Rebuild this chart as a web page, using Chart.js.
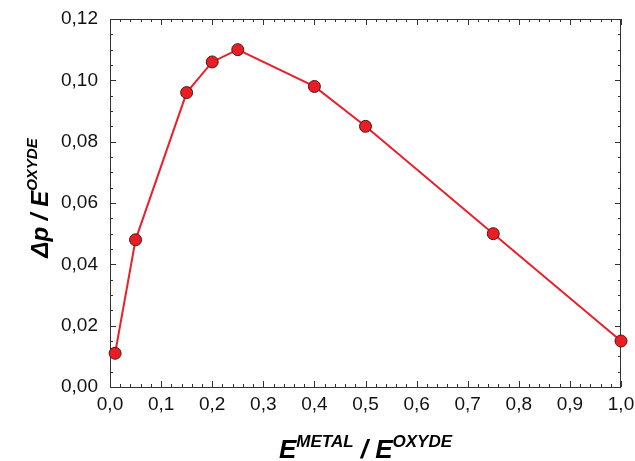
<!DOCTYPE html>
<html>
<head>
<meta charset="utf-8">
<script src="https://cdn.jsdelivr.net/npm/chart.js@4"></script>
<style>
    body { margin: 0; background: #fff; }
    #chart { display: block; }
</style>
</head>
<body>
<canvas id="chart" width="635" height="461"></canvas>
<script>
// dados
const ratioMetalOxyde = [0.01, 0.05, 0.15, 0.2, 0.25, 0.4, 0.5, 0.75, 1.0];
const deltaP = [0.011, 0.048, 0.096, 0.106, 0.110, 0.098, 0.085, 0.050, 0.015];

const xTickStep = 0.1;
const yTickStep = 0.02;
const xMinorStep = 0.02;
const yMinorStep = 0.005;

const FONT = '"Liberation Sans", Arial, sans-serif';
const AXIS_COLOR = '#333';

function fmt(v, decimals) {
    return v.toFixed(decimals).replace('.', ',');
}

// moldura com ticks para dentro (todos os lados)
const framePlugin = {
    id: 'frame',
    beforeDatasetsDraw(chart) {
        const { ctx, chartArea: a, scales } = chart;
        const x = scales.x, y = scales.y;
        ctx.save();
        ctx.strokeStyle = AXIS_COLOR;
        ctx.lineWidth = 1;
        ctx.strokeRect(a.left + 0.5, a.top + 0.5, a.right - a.left - 1, a.bottom - a.top);

        ctx.beginPath();
        const nx = Math.round((x.max - x.min) / xMinorStep);
        for (let i = 0; i <= nx; i++) {
            const v = x.min + i * xMinorStep;
            const major = Math.abs(v / xTickStep - Math.round(v / xTickStep)) < 1e-6;
            const len = major ? 6 : 3;
            const px = Math.round(x.getPixelForValue(v)) + 0.5;
            ctx.moveTo(px, a.bottom); ctx.lineTo(px, a.bottom - len);
            ctx.moveTo(px, a.top); ctx.lineTo(px, a.top + len);
        }
        const ny = Math.round((y.max - y.min) / yMinorStep);
        for (let i = 0; i <= ny; i++) {
            const v = y.min + i * yMinorStep;
            const major = Math.abs(v / yTickStep - Math.round(v / yTickStep)) < 1e-6;
            const len = major ? 6 : 3;
            const py = Math.round(y.getPixelForValue(v)) + 0.5;
            ctx.moveTo(a.left, py); ctx.lineTo(a.left + len, py);
            ctx.moveTo(a.right, py); ctx.lineTo(a.right - len, py);
        }
        ctx.stroke();
        ctx.restore();
    },
    afterDraw(chart) {
        const { ctx, chartArea: a } = chart;
        ctx.save();
        ctx.fillStyle = '#000';
        ctx.textBaseline = 'alphabetic';

        // título do eixo x: E^METAL / E^OXYDE
        drawTitle(ctx, [
            ['E', 26, 0], ['METAL', 17, -11], [' / ', 26, 0], ['E', 26, 0], ['OXYDE', 17, -11]
        ], (a.left + a.right) / 2, 458, 0);

        // título do eixo y: Δp / E^OXYDE
        drawTitle(ctx, [
            ['\u0394p / E', 24, 0], ['OXYDE', 15, -11]
        ], 48, (a.top + a.bottom) / 2 - 5, -Math.PI / 2);

        ctx.restore();
    }
};

function drawTitle(ctx, parts, cx, cy, angle) {
    let total = 0;
    parts.forEach(p => {
        ctx.font = `italic bold ${p[1]}px ${FONT}`;
        p.w = ctx.measureText(p[0]).width;
        total += p.w;
    });
    ctx.save();
    ctx.translate(cx, cy);
    ctx.rotate(angle);
    let xPos = -total / 2;
    parts.forEach(p => {
        ctx.font = `italic bold ${p[1]}px ${FONT}`;
        ctx.fillText(p[0], xPos, p[2]);
        xPos += p.w;
    });
    ctx.restore();
}

new Chart(document.getElementById('chart'), {
    type: 'scatter',
    data: {
        datasets: [{
            data: ratioMetalOxyde.map((v, i) => ({ x: v, y: deltaP[i] })),
            showLine: true,
            borderColor: '#e8212b',
            borderWidth: 2,
            pointRadius: 6,
            pointHoverRadius: 6,
            pointBackgroundColor: '#ea1c24',
            pointBorderColor: '#4a1a1a',
            pointBorderWidth: 1,
            clip: false
        }]
    },
    options: {
        responsive: false,
        animation: false,
        events: [],
        layout: {
            padding: { left: 0, right: 14, top: 19, bottom: 0 }
        },
        plugins: {
            legend: { display: false },
            tooltip: { enabled: false }
        },
        scales: {
            x: {
                type: 'linear',
                min: 0,
                max: 1,
                afterFit(scale) {
                    scale.height = 74;
                    scale.paddingLeft = 0;
                    scale.paddingRight = 0;
                },
                grid: { display: false, drawTicks: false },
                border: { display: false },
                ticks: {
                    stepSize: xTickStep,
                    padding: 6,
                    color: '#111',
                    font: { family: FONT, size: 19 },
                    maxRotation: 0,
                    callback: v => fmt(v, 1)
                }
            },
            y: {
                type: 'linear',
                min: 0,
                max: 0.12,
                afterFit(scale) {
                    scale.width = 110;
                    scale.paddingTop = 0;
                    scale.paddingBottom = 0;
                },
                grid: { display: false, drawTicks: false },
                border: { display: false },
                ticks: {
                    stepSize: yTickStep,
                    padding: 12,
                    color: '#111',
                    font: { family: FONT, size: 19 },
                    callback: v => fmt(v, 2)
                }
            }
        }
    },
    plugins: [framePlugin]
});
</script>
</body>
</html>
